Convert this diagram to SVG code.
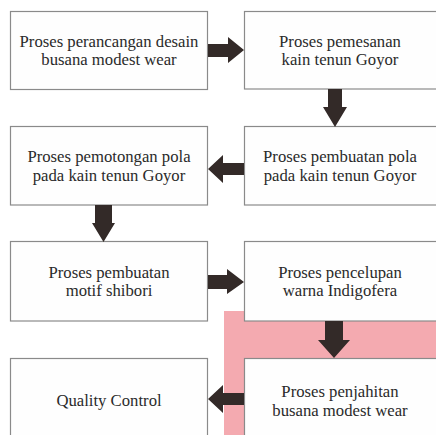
<svg xmlns="http://www.w3.org/2000/svg" width="436" height="435" viewBox="0 0 436 435">
<style>
.box{fill:#fefefe;stroke:#8a8a8a;stroke-width:1.2}
.t{font-family:'Liberation Serif','Times New Roman','DejaVu Serif',serif;font-size:16.7px;fill:#2a2a2a;text-anchor:middle}
.arr{fill:#332a28}
</style>
<rect x="0" y="0" width="436" height="435" fill="#ffffff"/>
<rect id="highlight" x="224" y="311" width="212" height="124" fill="#f4aab0"/>
<g id="n1"><rect class="box" x="10.5" y="11.5" width="197" height="78"/>
<text class="t" x="109" y="46.5">Proses perancangan desain</text>
<text class="t" x="109" y="65">busana modest wear</text></g>
<g id="n2"><rect class="box" x="244.5" y="11.5" width="200" height="77.5"/>
<text class="t" x="340" y="46.5">Proses pemesanan</text>
<text class="t" x="340" y="65">kain tenun Goyor</text></g>
<g id="n3"><rect class="box" x="10.5" y="126.5" width="197" height="78.5"/>
<text class="t" x="109" y="162">Proses pemotongan pola</text>
<text class="t" x="109" y="180.5">pada kain tenun Goyor</text></g>
<g id="n4"><rect class="box" x="244.5" y="126.5" width="200" height="78.5"/>
<text class="t" x="340" y="162">Proses pembuatan pola</text>
<text class="t" x="340" y="180.5">pada kain tenun Goyor</text></g>
<g id="n5"><rect class="box" x="10.5" y="241.5" width="197" height="79.5"/>
<text class="t" x="109" y="277.5">Proses pembuatan</text>
<text class="t" x="109" y="296">motif shibori</text></g>
<g id="n6"><rect class="box" x="244.5" y="241.5" width="200" height="79.5"/>
<text class="t" x="340" y="277.5">Proses pencelupan</text>
<text class="t" x="340" y="296">warna Indigofera</text></g>
<g id="n7"><rect class="box" x="10.5" y="358.5" width="197" height="90"/>
<text class="t" x="109" y="405.5">Quality Control</text></g>
<g id="n8"><rect class="box" x="244.5" y="358.5" width="200" height="90"/>
<text class="t" x="340" y="397">Proses penjahitan</text>
<text class="t" x="340" y="415.5">busana modest wear</text></g>
<g id="connectors">
<polygon class="arr" points="208,44 228,44 228,37 244,50 228,63 228,57 208,57"/>
<polygon class="arr" points="328,89 342,89 342,107 347,107 335,127 323,107 328,107"/>
<polygon class="arr" points="244,163 223,163 223,155 208,169 223,183 223,175 244,175"/>
<polygon class="arr" points="95,205 112,205 112,223 115,223 103.5,242 92,223 95,223"/>
<polygon class="arr" points="208,275 227,275 227,269 244,282 227,294 227,289 208,289"/>
<polygon class="arr" points="325,321 343,321 343,340 350,340 334,358 318,340 325,340"/>
<polygon class="arr" points="244,393 223,393 223,385 208,399 223,413 223,405 244,405"/>
</g>
</svg>
